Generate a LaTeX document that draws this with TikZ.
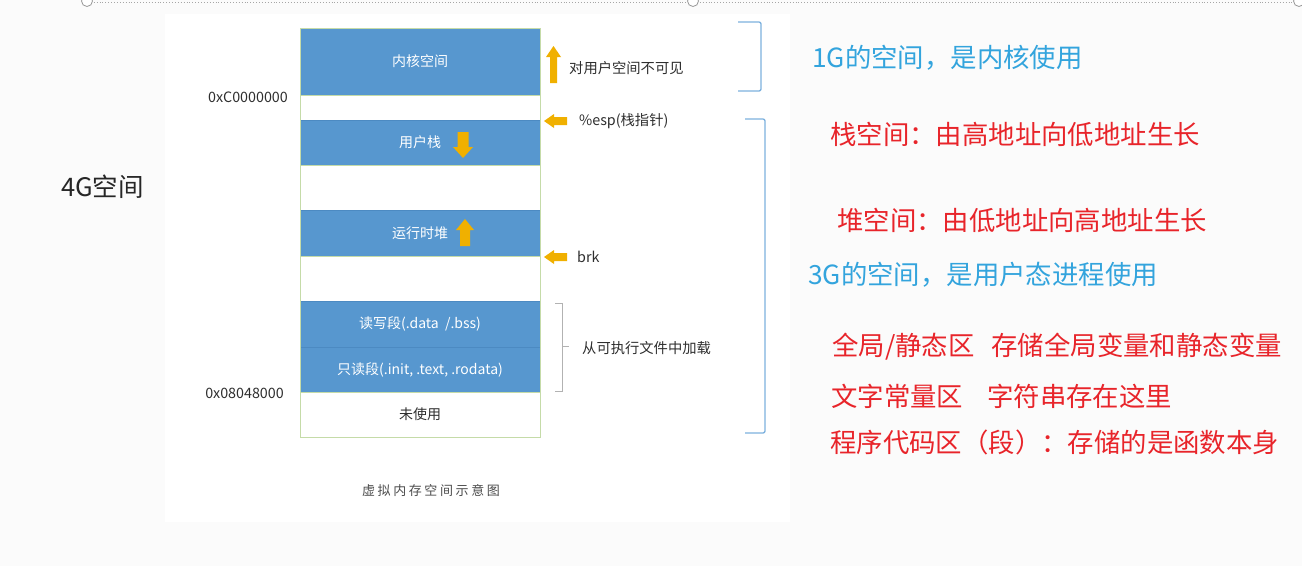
\documentclass[tikz,border=0pt]{standalone}
\usepackage{fontspec}
\setmainfont{Noto Sans CJK SC}
\newfontfamily\capfont[LetterSpace=20]{Noto Sans CJK SC}
\definecolor{memblue}{HTML}{5797CF}
\definecolor{memline}{HTML}{4C8AC2}
\definecolor{memedge}{HTML}{C5DBA8}
\definecolor{arrowcol}{HTML}{F0B000}
\definecolor{noteblue}{HTML}{33A4DD}
\definecolor{notered}{HTML}{E8242A}
\definecolor{brkblue}{HTML}{7DB1DE}
\definecolor{bggray}{HTML}{FBFBFB}
\definecolor{txtdark}{HTML}{2E2E2E}
\tikzset{
  seg/.style={draw=memedge, line width=0.8pt, minimum width=240pt, inner sep=0pt, outer sep=0pt,
    anchor=north west, text=txtdark, font=\fontsize{14}{16}\selectfont},
  useg/.style={seg, fill=memblue, draw=memline, text=white},
  small/.style={inner sep=0pt, text=txtdark, font=\fontsize{14.3}{16}\selectfont},
  note/.style={anchor=west, inner sep=0pt, font=\fontsize{26.4}{30}\selectfont},
  bracket/.style={draw=brkblue, line width=1.3pt, rounded corners=2pt},
  pics/blockarrow/.style n args={4}{code={
    \fill[arrowcol] (0,#3/2) -- (#1-#4,#3/2) -- (#1-#4,#2/2) -- (#1,0) -- (#1-#4,-#2/2) -- (#1-#4,-#3/2) -- (0,-#3/2) -- cycle;
  }}
}
\begin{document}
\begin{tikzpicture}[x=1pt,y=-1pt]
\useasboundingbox (0,0) rectangle (1302,566);
\fill[bggray] (0,0) rectangle (1302,566);
\fill[white] (165,14) rectangle (790,522);
% top selection frame
\draw[gray!70, dotted, line width=0.9pt] (85,2) -- (1302,2);
\foreach \cx in {87,693,1299} \draw[gray!80, fill=white, line width=0.8pt] (\cx,1) circle (5.5);

% memory column
\node[useg, minimum height=67pt] (kernel) at (300,28) {内核空间};
\node[seg, minimum height=25pt] (gap1) at (300,95) {};
\node[useg, minimum height=45pt] (ustack) at (300,120) {用户栈};
\node[seg, minimum height=45pt] (gap2) at (300,165) {};
\node[useg, minimum height=46pt] (heap) at (300,210) {运行时堆};
\node[seg, minimum height=45pt] (gap3) at (300,256) {};
\node[useg, minimum height=46pt] (rw) at (300,301) {读写段(.data\ \ /.bss)};
\node[useg, minimum height=45pt] (ro) at (300,347) {只读段(.init, .text, .rodata)};
\node[seg, minimum height=45pt] (unused) at (300,392) {未使用};
\draw[memedge, line width=0.8pt] (kernel.north west) rectangle (unused.south east);

% arrows inside blocks
\pic[rotate=-90] at (463,132) {blockarrow={26}{20}{11}{11}};
\pic[rotate=90] at (465,246) {blockarrow={27}{18}{10}{11}};
% side arrows
\pic[rotate=90] at (553.5,83) {blockarrow={37}{15}{7}{11}};
\pic[rotate=180] at (567,121) {blockarrow={23}{14}{8}{10}};
\pic[rotate=180] at (567,257) {blockarrow={23}{14}{8}{10}};

% address labels
\node[small, anchor=east] (addrC) at (288,97) {0xC0000000};
\node[small, anchor=east] (addr08) at (284,393) {0x08048000};

% side notes
\node[small, anchor=west] (invis) at (569,68) {对用户空间不可见};
\node[small, anchor=west] (esp) at (579,121) {\%esp(栈指针)};
\node[small, anchor=west] (brk) at (577,257) {brk};
\node[small, anchor=west] (load) at (582,348) {从可执行文件中加载};

% small bracket
\coordinate (sb1) at (555,303);
\coordinate (sb2) at (562,303);
\coordinate (sb3) at (562,391);
\coordinate (sb4) at (555,391);
\coordinate (sbm) at (562,346);
\coordinate (sbt) at (569,346);
\draw[gray!60, line width=0.8pt] (sb1) -- (sb2) -- (sb3) -- (sb4);
\draw[gray!60, line width=0.8pt] (sbm) -- (sbt);

% big brackets
\coordinate (b1a) at (738,22);
\coordinate (b1b) at (761,22);
\coordinate (b1c) at (761,91);
\coordinate (b1d) at (738,91);
\draw[bracket] (b1a) -- (b1b) -- (b1c) -- (b1d);
\coordinate (b2a) at (745,119);
\coordinate (b2b) at (765,119);
\coordinate (b2c) at (765,433);
\coordinate (b2d) at (745,433);
\draw[bracket] (b2a) -- (b2b) -- (b2c) -- (b2d);

% 4G label
\node[anchor=west, inner sep=0pt, text=black!85, font=\fontsize{25.5}{28}\selectfont] (fourG) at (61,187) {4G空间};

% right notes
\node[note, text=noteblue] (n1) at (812,58) {1G的空间，是内核使用};
\node[note, text=notered] (n2) at (830,134) {栈空间：由高地址向低地址生长};
\node[note, text=notered] (n3) at (837,220) {堆空间：由低地址向高地址生长};
\node[note, text=noteblue] (n4) at (808,275) {3G的空间，是用户态进程使用};
\node[note, text=notered] (n5) at (832,347) {全局/静态区\hspace{17pt}存储全局变量和静态变量};
\node[note, text=notered] (n6) at (831,396) {文字常量区\hspace{24pt}字符串存在这里};
\node[note, text=notered] (n7) at (830,442) {程序代码区（段）：存储的是函数本身};

% caption
\node[inner sep=0pt, text=black!70, font=\capfont\fontsize{13}{16}\selectfont] (caption) at (431,491) {虚拟内存空间示意图};
\end{tikzpicture}
\end{document}
